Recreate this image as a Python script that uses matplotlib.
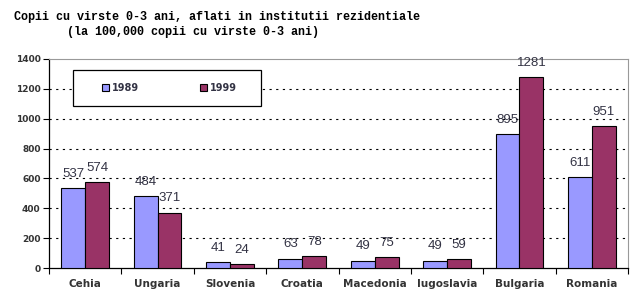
import matplotlib.pyplot as plt
from matplotlib.patches import Rectangle
import numpy as np

countries = ['Cehia', 'Ungaria', 'Slovenia', 'Croatia', 'Macedonia', 'Iugoslavia', 'Bulgaria', 'Romania']
v1989 = [537, 484, 41, 63, 49, 49, 895, 611]
v1999 = [574, 371, 24, 78, 75, 59, 1281, 951]

fig = plt.figure(figsize=(6.44, 3.08), dpi=100)
ax = fig.add_axes([49 / 644, 1 - 268 / 308, 579 / 644, 209 / 308])

x = np.arange(len(countries))
w = 0.33
b1 = ax.bar(x - w / 2, v1989, w, color='#9999FF', edgecolor='black', linewidth=0.8, label='1989', zorder=3)
b2 = ax.bar(x + w / 2, v1999, w, color='#993366', edgecolor='black', linewidth=0.8, label='1999', zorder=3)

for bars, vals in ((b1, v1989), (b2, v1999)):
    for r, v in zip(bars, vals):
        ax.text(r.get_x() + r.get_width() / 2, v + 55, str(v), ha='center', va='bottom',
                fontsize=9.5, color='#333344', family='Liberation Sans', clip_on=False)

ax.set_xlim(-0.5, len(countries) - 0.5)
ax.set_ylim(0, 1400)
ax.set_yticks(range(0, 1401, 200))
ax.set_yticklabels([str(t) for t in range(0, 1401, 200)], fontsize=6.5, fontweight='bold', color='#333333')
ax.set_xticks(x)
ax.set_xticklabels(countries, fontsize=7.5, fontweight='bold', color='#333333')
ax.set_xticks(np.arange(-0.5, len(countries), 1), minor=True)
ax.tick_params(axis='x', which='major', length=0, pad=8)
ax.tick_params(axis='x', which='minor', length=4, direction='out', width=0.8)
ax.tick_params(axis='y', length=4, direction='out', width=0.8, pad=2)

for yv in range(200, 1400, 200):
    ax.axhline(yv, color='black', linestyle=(0, (2, 4)), linewidth=0.8, zorder=1)

ax.spines['top'].set_color('#999999')
ax.spines['right'].set_color('#999999')
ax.spines['left'].set_linewidth(0.9)
ax.spines['bottom'].set_linewidth(0.9)

# legend box drawn separately so it can be wider than its entries
x0, x1 = (73 - 49) / 579, (261 - 49) / 579
y0, y1 = (268 - 106) / 209, (268 - 70) / 209
ax.add_patch(Rectangle((x0, y0), x1 - x0, y1 - y0, transform=ax.transAxes, facecolor='white',
                       edgecolor='black', linewidth=0.9, zorder=4))
leg = ax.legend(loc='center', bbox_to_anchor=((x0 + x1) / 2 + 0.004, (y0 + y1) / 2), ncol=2,
                frameon=False, handlelength=0.7, handleheight=0.7, columnspacing=6.3,
                handletextpad=0.3, borderaxespad=0, prop={'weight': 'bold', 'size': 7})
leg.set_zorder(5)
for t in leg.get_texts():
    t.set_color('#333344')

fig.text(14 / 644, 1 - 17 / 308, 'Copii cu virste 0-3 ani, aflati in institutii rezidentiale',
         family='Liberation Mono', fontweight='bold', fontsize=8.5, va='center')
fig.text(67 / 644, 1 - 32 / 308, '(la 100,000 copii cu virste 0-3 ani)',
         family='Liberation Mono', fontweight='bold', fontsize=8.5, va='center')

fig.savefig('out.png', dpi=100)
